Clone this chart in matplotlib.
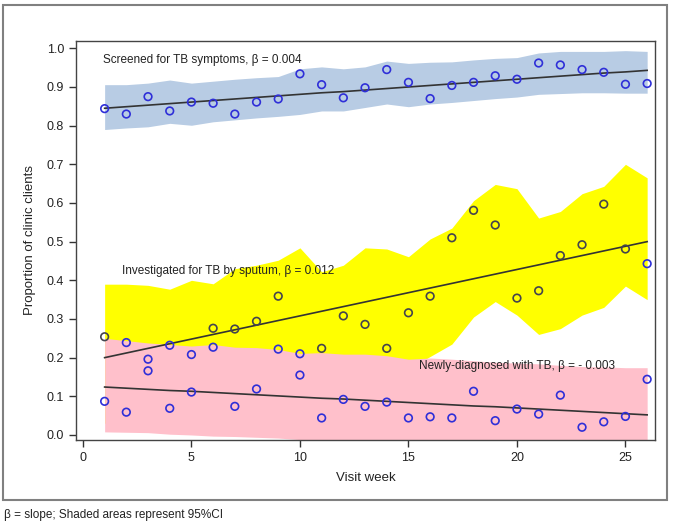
import numpy as np
import matplotlib
matplotlib.use("Agg")
import matplotlib.pyplot as plt
from matplotlib.patches import Rectangle

plt.rcParams['font.family'] = ['Liberation Sans', 'DejaVu Sans']

weeks = np.arange(1, 27)

# screened for TB symptoms
scr_obs = [0.844, 0.830, 0.875, 0.838, 0.861, 0.858, 0.830, 0.861, 0.869, 0.934,
           0.906, 0.872, 0.898, 0.945, 0.912, 0.870, 0.904, 0.912, 0.929, 0.920,
           0.962, 0.957, 0.945, 0.938, 0.907, 0.909]
scr_fit = [0.845, 0.849, 0.853, 0.857, 0.861, 0.865, 0.869, 0.873, 0.877, 0.881,
           0.885, 0.888, 0.892, 0.896, 0.900, 0.904, 0.908, 0.912, 0.916, 0.920,
           0.924, 0.928, 0.932, 0.936, 0.939, 0.943]
scr_lo = [0.790, 0.794, 0.797, 0.806, 0.801, 0.810, 0.815, 0.820, 0.824, 0.829,
          0.838, 0.838, 0.847, 0.856, 0.849, 0.856, 0.860, 0.865, 0.870, 0.874,
          0.881, 0.883, 0.885, 0.885, 0.884, 0.884]
scr_hi = [0.906, 0.906, 0.910, 0.918, 0.910, 0.915, 0.920, 0.924, 0.927, 0.947,
          0.952, 0.947, 0.952, 0.967, 0.961, 0.964, 0.965, 0.970, 0.974, 0.976,
          0.988, 0.992, 0.992, 0.992, 0.994, 0.992]

# investigated for TB by sputum
inv_obs = [0.254, 0.239, 0.196, 0.232, 0.208, 0.276, 0.274, 0.294, 0.359, 0.210,
           0.224, 0.308, 0.286, 0.224, 0.316, 0.359, 0.510, 0.581, 0.543, 0.354,
           0.373, 0.464, 0.492, 0.597, 0.481, 0.443]
inv_fit = [0.200, 0.212, 0.224, 0.236, 0.248, 0.260, 0.272, 0.284, 0.296, 0.308,
           0.320, 0.332, 0.344, 0.356, 0.368, 0.380, 0.392, 0.404, 0.416, 0.428,
           0.440, 0.452, 0.464, 0.476, 0.488, 0.500]
inv_lo = [0.030, 0.050, 0.060, 0.070, 0.050, 0.080, 0.060, 0.080, 0.090, 0.070,
          0.100, 0.120, 0.110, 0.140, 0.170, 0.203, 0.235, 0.305, 0.345, 0.310,
          0.260, 0.275, 0.310, 0.330, 0.385, 0.350]
inv_hi = [0.390, 0.390, 0.387, 0.377, 0.400, 0.391, 0.430, 0.439, 0.452, 0.484,
          0.422, 0.439, 0.484, 0.481, 0.461, 0.507, 0.535, 0.606, 0.648, 0.637,
          0.561, 0.578, 0.624, 0.643, 0.700, 0.665]

# newly diagnosed with TB
new_obs = [0.087, 0.059, 0.166, 0.069, 0.111, 0.227, 0.074, 0.119, 0.222, 0.155,
           0.044, 0.092, 0.074, 0.085, 0.044, 0.047, 0.044, 0.113, 0.037, 0.067,
           0.054, 0.103, 0.020, 0.034, 0.048, 0.144]
new_fit = [0.124, 0.121, 0.118, 0.115, 0.113, 0.110, 0.107, 0.104, 0.101, 0.098,
           0.095, 0.093, 0.090, 0.087, 0.084, 0.081, 0.078, 0.075, 0.073, 0.070,
           0.067, 0.064, 0.061, 0.058, 0.055, 0.052]
new_lo = [0.008, 0.007, 0.006, 0.002, 0.000, -0.003, -0.004, -0.006, -0.008, -0.012,
          -0.015, -0.02, -0.02, -0.02, -0.02, -0.02, -0.02, -0.02, -0.02, -0.02,
          -0.02, -0.02, -0.02, -0.02, -0.02, -0.02]
new_hi = [0.250, 0.244, 0.238, 0.234, 0.230, 0.234, 0.227, 0.226, 0.221, 0.211,
          0.213, 0.209, 0.209, 0.205, 0.196, 0.199, 0.196, 0.192, 0.188, 0.186,
          0.184, 0.180, 0.177, 0.176, 0.174, 0.174]

labels = ["Screened for TB symptoms, \u03b2 = 0.004",
          "Investigated for TB by sputum, \u03b2 = 0.012",
          "Newly-diagnosed with TB, \u03b2 = - 0.003"]
footnote = "\u03b2 = slope; Shaded areas represent 95%CI"

blue = '#2f2fd8'
line_col = '#333333'

fig = plt.figure(figsize=(6.73, 5.26), dpi=100)
ax = fig.add_axes([0.1129, 0.1635, 0.8603, 0.7586])

ax.fill_between(weeks, scr_lo, scr_hi, color='#b8cce4', lw=0, zorder=1)
ax.fill_between(weeks, inv_lo, inv_hi, color='#ffff00', lw=0, zorder=1)
ax.fill_between(weeks, new_lo, new_hi, color='#ffc0cb', lw=0, zorder=1)

for fit in (scr_fit, inv_fit, new_fit):
    ax.plot(weeks, fit, color=line_col, lw=1.2, zorder=2)

# markers sitting on the yellow band look dark in the original
inv_arr = np.array(inv_obs)
on_yellow = (inv_arr > np.array(new_hi)) & (weeks < weeks.max())
inv_cols = np.where(on_yellow, '#44444e', blue)

ax.scatter(weeks, scr_obs, s=30, facecolors='none', edgecolors=blue, linewidths=1.2, zorder=3)
ax.scatter(weeks, new_obs, s=30, facecolors='none', edgecolors=blue, linewidths=1.2, zorder=3)
ax.scatter(weeks, inv_obs, s=30, facecolors='none', edgecolors=inv_cols, linewidths=1.2, zorder=3)

ax.text(0.93, 0.970, labels[0], fontsize=8.5, va='center', ha='left', color='#222222')
ax.text(1.8, 0.423, labels[1], fontsize=8.5, va='center', ha='left', color='#222222')
ax.text(15.5, 0.178, labels[2], fontsize=8.5, va='center', ha='left', color='#222222')

ax.set_xlim(-0.32, 26.36)
ax.set_ylim(-0.013, 1.019)
ax.set_xticks([0, 5, 10, 15, 20, 25])
ax.set_yticks(np.arange(0, 1.01, 0.1))
ax.set_yticklabels(["%.1f" % v for v in np.arange(0, 1.01, 0.1)])
ax.tick_params(direction='out', length=5, width=1, colors='#333333', labelsize=9, labelcolor='#222222')
for sp in ax.spines.values():
    sp.set_color('#444444')
    sp.set_linewidth(1.0)

ax.set_xlabel("Visit week", fontsize=9.5, color='#222222', labelpad=6)
ax.set_ylabel("Proportion of clinic clients", fontsize=9.5, color='#222222', labelpad=8)

fig.patches.append(Rectangle((3 / 673, 1 - 500 / 526), 664 / 673, 495 / 526,
                             transform=fig.transFigure, fill=False,
                             edgecolor='#808080', lw=1.5))
fig.text(4 / 673, 1 - 515 / 526, footnote, fontsize=8.5, va='center', ha='left', color='#222222')

fig.savefig("out.png", dpi=100)
